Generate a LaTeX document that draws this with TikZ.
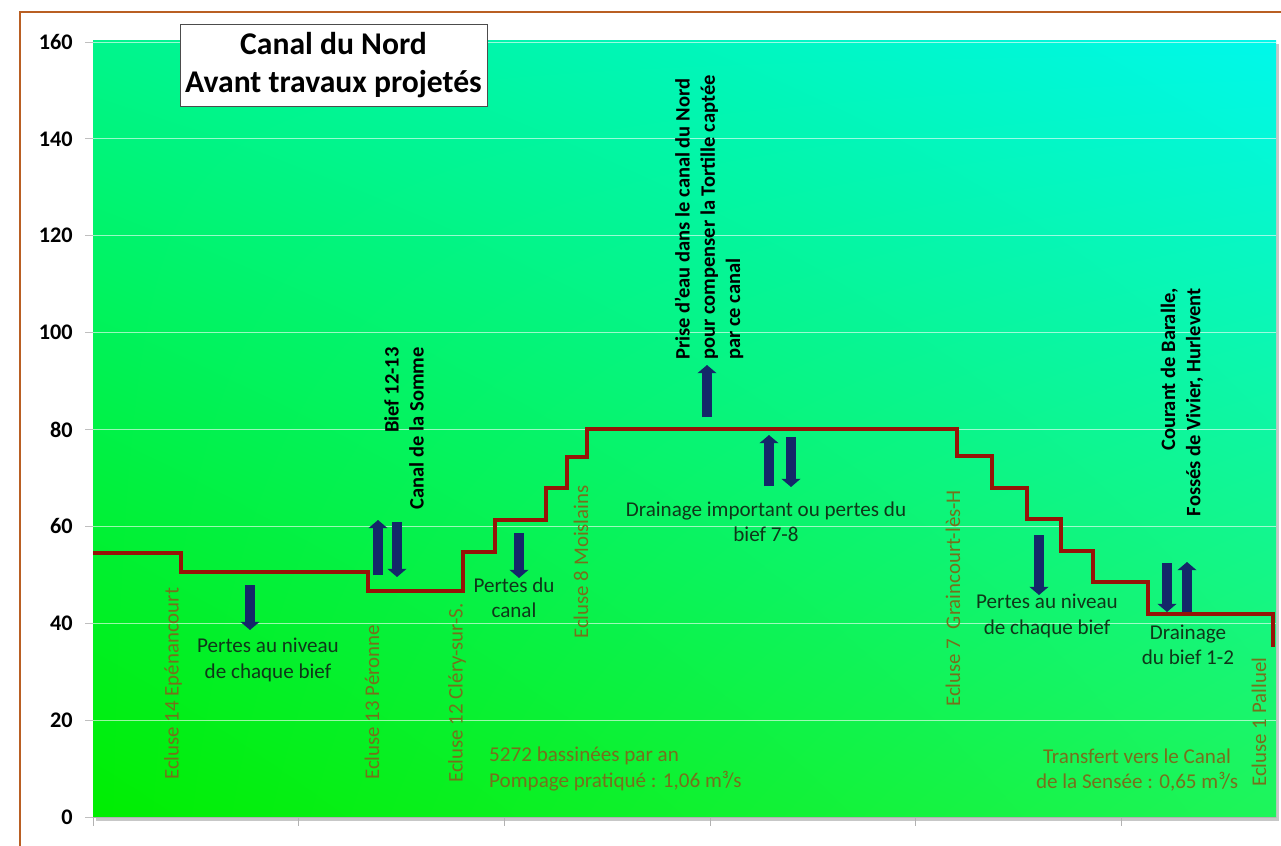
\documentclass[tikz,border=0pt]{standalone}
\usepackage{fontspec}
\setmainfont{Carlito}
\usetikzlibrary{arrows.meta,shadings}

\definecolor{framebrown}{RGB}{185,95,35}
\definecolor{levelred}{RGB}{150,20,8}
\definecolor{flownavy}{RGB}{20,40,105}
\definecolor{notedark}{RGB}{15,55,25}
\definecolor{lockolive}{RGB}{118,112,28}

\begin{document}
\begin{tikzpicture}[x=0.03cm,y=-0.03cm]
\tikzset{
  ticklabel/.style={anchor=east,font=\fontsize{19}{22}\selectfont\bfseries,inner sep=0pt},
  locklabel/.style={rotate=90,anchor=west,text=lockolive,font=\fontsize{17.8}{21}\selectfont,inner sep=0pt},
  flowlabel/.style={rotate=90,font=\fontsize{17.5}{21.5}\selectfont\bfseries,inner sep=0pt},
  note/.style={align=center,text=notedark,font=\fontsize{18}{21.5}\selectfont,inner sep=0pt},
  infotext/.style={text=lockolive,font=\fontsize{18}{22}\selectfont,inner sep=0pt},
  flow/.style={-{Triangle[width=16pt,length=7pt]},line width=8pt,flownavy},
  level/.style={levelred,line width=3pt,line join=miter},
  titlebox/.style={draw=black!70,fill=white,line width=0.6pt,align=center,
    font=\fontsize{27}{33}\selectfont\bfseries,minimum width=9.21cm,minimum height=2.46cm,inner sep=0pt}
}
\useasboundingbox (0,0) rectangle (1281,846);
\fill[white] (0,0) rectangle (1281,846);
\draw[framebrown,line width=1.8pt] (20,846) -- (20,12) -- (1281,12);

% plot area
\fill[black!22] (96,44) rectangle (1279,821);
\shade[upper left={rgb,255:red,0;green,245;blue,140},upper right={rgb,255:red,0;green,248;blue,235},
  lower left={rgb,255:red,0;green,238;blue,0},lower right={rgb,255:red,30;green,245;blue,90}]
  (93,41) rectangle (1276,817);
\foreach \v in {0,20,...,160}{
  \pgfmathsetmacro\yy{817-4.844*\v}
  \draw[white,opacity=0.6,line width=0.7pt] (93,\yy) -- (1276,\yy);
  \draw[black!25,line width=0.7pt] (85,\yy) -- (93,\yy);
  \node[ticklabel] (tick\v) at (73,\yy) {\v};
}
\draw[black!30,line width=0.8pt] (93,817) -- (1276,817);
\foreach \x in {93,298.6,504,710,915,1121}
  \draw[black!30,line width=0.8pt] (\x,817) -- (\x,826);

\node[titlebox] (title) at (333.5,65) {Canal du Nord\\Avant travaux projetés};

% ligne d'eau
\draw[level] (93,553) -- (181,553) -- (181,572) -- (368,572) -- (368,591) -- (463,591)
  -- (463,552) -- (495,552) -- (495,520) -- (546,520) -- (546,488) -- (567,488)
  -- (567,457) -- (587,457) -- (587,429) -- (957,429) -- (957,456) -- (992,456)
  -- (992,488) -- (1027,488) -- (1027,519) -- (1061,519) -- (1061,551) -- (1093,551)
  -- (1093,582) -- (1148,582) -- (1148,614) -- (1273,614) -- (1273,647);

% ecluses
\node[locklabel] (e14) at (173,780) {Ecluse 14 Epénancourt};
\node[locklabel] (e13) at (372,780) {Ecluse 13 Péronne};
\node[locklabel] (e12) at (457,783) {Ecluse 12 Cléry-sur-S.};
\node[locklabel] (e8) at (581,639) {Ecluse 8 Moislains};
\node[locklabel] (e7) at (953,707) {Ecluse 7~ Graincourt-lès-H};
\node[locklabel] (e1) at (1259,787) {Ecluse 1 Palluel};

% apports et pertes
\node[flowlabel,align=right,anchor=east] (somme) at (404,347) {Bief 12-13\\Canal de la Somme};
\node[flowlabel,align=left,anchor=west] (prise) at (709,360) {Prise d'eau dans le canal du Nord\\pour compenser la Tortille captée\\par ce canal};
\node[flowlabel,align=right,anchor=east] (baralle) at (1182,288) {Courant de Baralle,\\Fossés de Vivier, Hurlevent};

\node[note] (pertes1) at (268,660) {Pertes au niveau\\de chaque bief};
\node[note] (pertes2) at (514,598) {Pertes du\\canal};
\node[note] (drain78) at (766,522) {Drainage important ou pertes du\\bief 7-8};
\node[note] (pertes3) at (1047,616) {Pertes au niveau\\de chaque bief};
\node[note] (drain12) at (1188,645) {Drainage\\du bief 1-2};

\node[infotext,align=left,anchor=west] (pompage) at (489,769) {5272 bassinées par an\\Pompage pratiqué : 1,06 m³/s};
\node[infotext,align=center] (transfert) at (1137,770) {Transfert vers le Canal\\de la Sensée : 0,65 m³/s};

\draw[flow] (250,585) -- (250,630);
\draw[flow] (378,575) -- (378,520);
\draw[flow] (397,522) -- (397,577);
\draw[flow] (519,533) -- (519,578);
\draw[flow] (707,417) -- (707,365);
\draw[flow] (769,486) -- (769,435);
\draw[flow] (791,437) -- (791,487);
\draw[flow] (1039,535) -- (1039,595);
\draw[flow] (1167,563) -- (1167,612);
\draw[flow] (1187,612) -- (1187,562);
\end{tikzpicture}
\end{document}
